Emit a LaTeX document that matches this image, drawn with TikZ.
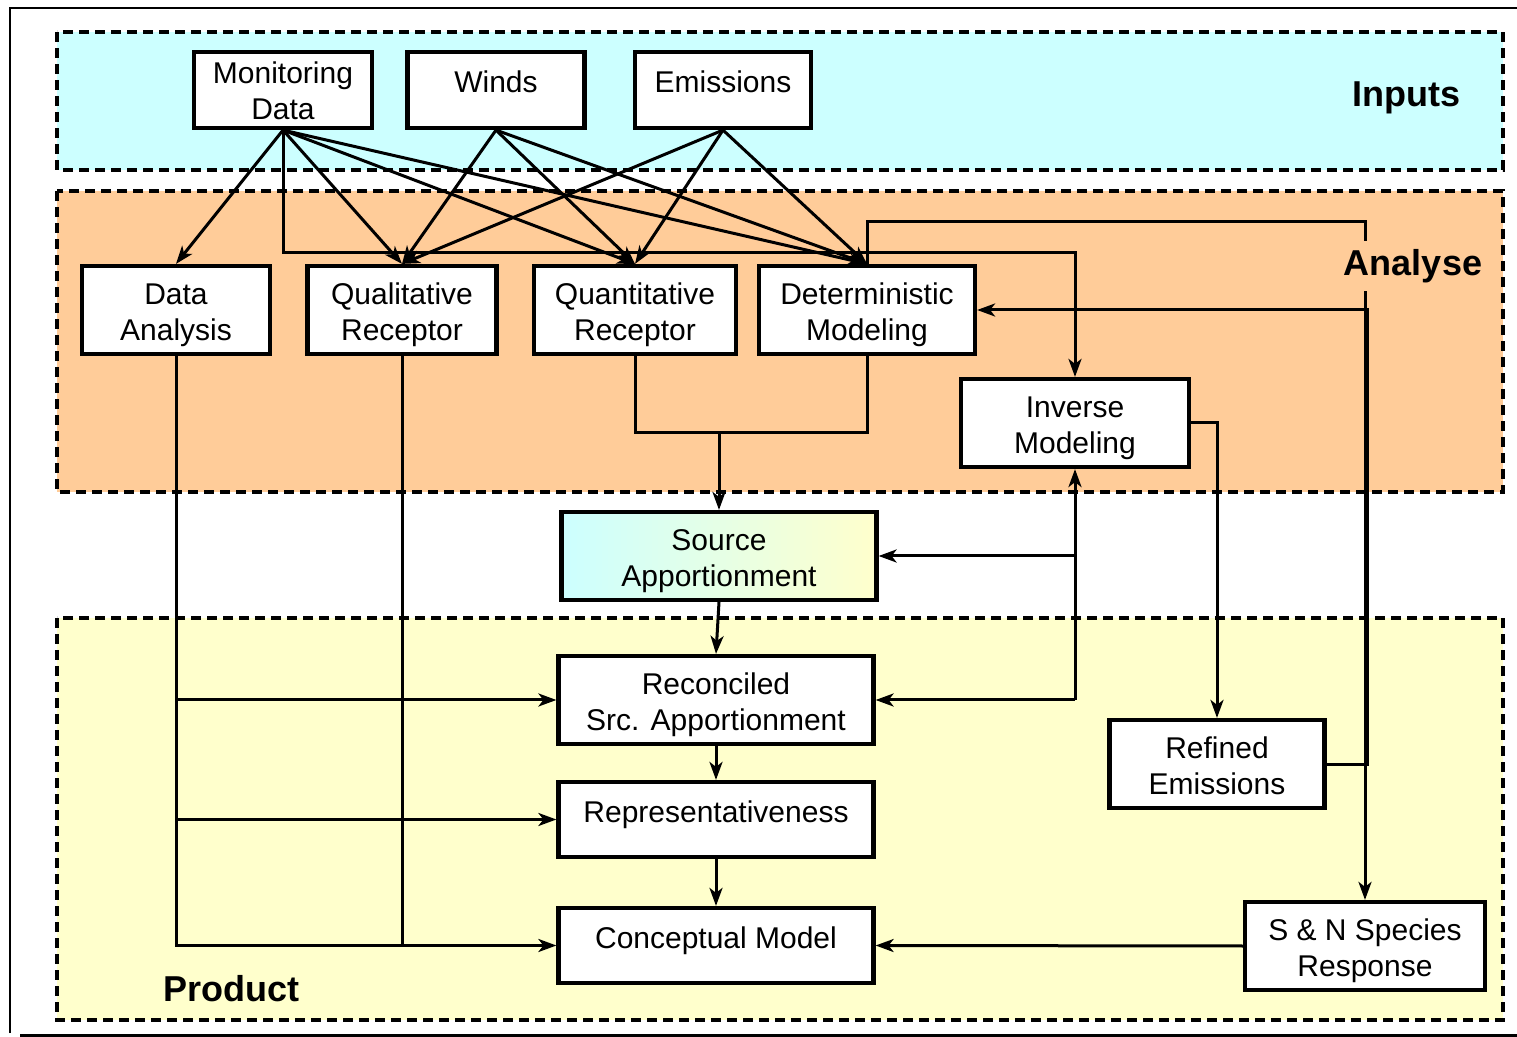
\documentclass[tikz,border=0pt]{standalone}
\usepackage{fontspec}
\setmainfont{Liberation Sans}
\usetikzlibrary{arrows.meta,calc}
\definecolor{inpcol}{HTML}{CCFFFF}
\definecolor{anacol}{HTML}{FFCC99}
\definecolor{prodcol}{HTML}{FFFFCC}
\tikzset{
	box/.style={draw,line width=2.1pt,fill=white,align=center,inner sep=2pt,font=\fontsize{15}{18}\selectfont},
	blk/.style={box,text height=34pt,text depth=3.2pt},
	blkone/.style={box,text depth=8pt},
	band/.style={draw,dash pattern=on 5pt off 3pt,line width=1.6pt},
	ln/.style={line width=1.5pt},
	arr/.style={line width=1.5pt,-{Stealth[length=9pt,width=6.5pt,inset=2.5pt]}},
	lbl/.style={font=\fontsize{18}{20}\bfseries\selectfont}
}

\begin{document}
\begin{tikzpicture}[x=0.5pt,y=-0.5pt]
\useasboundingbox (0,0) rectangle (1517,1037);
\draw[line width=1.2pt] (10,1033) -- (10,8) -- (1530,8);
\draw[line width=1.5pt] (20,1035) -- (1530,1035);

\draw[band,fill=inpcol] (57,32) rectangle (1503,170);
\draw[band,fill=anacol] (57,191) rectangle (1503,492);
\draw[band,fill=prodcol] (57,618) rectangle (1503,1020);

\node[box,text height=30pt,text depth=0pt,minimum width=89pt,minimum height=38pt] (mon) at (283,90) {Monitoring\\Data};
\node[blkone,minimum width=88.5pt,minimum height=38pt] (win) at (496,90) {Winds};
\node[blkone,minimum width=88pt,minimum height=38pt] (emi) at (723,90) {Emissions};

\node[blk,minimum width=94pt,minimum height=44pt] (dat) at (176,310) {Data\\Analysis};
\node[blk,minimum width=94.5pt,minimum height=44pt] (qual) at (402,310) {Qualitative\\Receptor};
\node[blk,minimum width=101pt,minimum height=44pt] (quan) at (635,310) {Quantitative\\Receptor};
\node[blk,minimum width=108pt,minimum height=44pt] (det) at (867,310) {Deterministic\\Modeling};
\node[blk,minimum width=114pt,minimum height=44pt] (inv) at (1075,423) {Inverse\\Modeling};

\node[blk,minimum width=157.5pt,minimum height=44pt,left color=inpcol,right color=prodcol] (sa) at (719,556) {Source\\Apportionment};
\node[blk,minimum width=157.5pt,minimum height=44pt] (rec) at (716,700) {Reconciled\\Src. Apportionment};
\node[blkone,minimum width=157.5pt,minimum height=37.5pt] (rep) at (716,819.5) {Representativeness};
\node[blkone,minimum width=157.5pt,minimum height=37.5pt] (con) at (716,945.5) {Conceptual Model};
\node[blk,minimum width=107.5pt,minimum height=44pt] (ref) at (1217,764) {Refined\\Emissions};
\node[blk,minimum width=120pt,minimum height=44pt] (sn) at (1365,946) {S \& N Species\\Response};

\foreach \s/\t in {mon/dat,mon/qual,mon/quan,mon/det,win/qual,win/quan,win/det,emi/qual,emi/quan,emi/det}
	\draw[arr] (\s.south) -- (\t.north);
\draw[arr] (mon.south) |- (1075,253) -- (inv.north);

\draw[ln] (quan.south) -- (635,433) -- (867,433) -- (det.south);
\coordinate (mrg) at (719,433);
\draw[arr] (mrg) -- (sa.north);
\draw[arr] (sa.south) -- (rec.north);
\draw[arr] (rec.south) -- (rep.north);
\draw[arr] (rep.south) -- (con.north);

\draw[arr] (dat.south) |- (con.west);
\draw[arr] (dat.south |- rec.west) -- (rec.west);
\draw[arr] (dat.south |- rep.west) -- (rep.west);
\draw[ln] (qual.south) -- (qual.south |- con.west);

\draw[arr] (inv.south |- rec.east) -- (inv.south);
\draw[arr] (inv.south |- rec.east) -- (rec.east);
\draw[arr] (inv.south |- sa.east) -- (sa.east);
\draw[arr] (inv.east) -| (ref.north);

\draw[arr] (det.north) |- (1365,222) -- (sn.north);
\draw[arr] (ref.east) -- (1367,764) |- (det.east);
\draw[arr] (sn.west) -- (con.east);

\node[lbl] at (1406,98) {Inputs};
\node[lbl,fill=anacol,inner sep=4pt] at (1413,266) {Analyse};
\node[lbl] at (231,989) {Product};
\end{tikzpicture}
\end{document}
